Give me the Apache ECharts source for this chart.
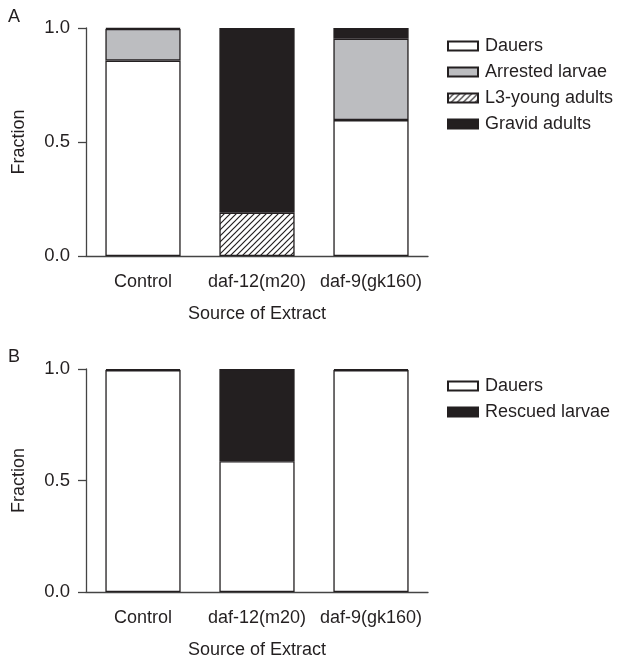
<!DOCTYPE html>
<html><head><meta charset="utf-8">
<script src="https://cdn.jsdelivr.net/npm/echarts@6/dist/echarts.min.js"></script>
<style>html,body{margin:0;padding:0;background:#fff}#c{width:618px;height:660px}</style>
</head><body><div id="c"></div>
<script>
const categories = ['Control', 'daf-12(m20)', 'daf-9(gk160)'];
const yTicks = [0.0, 0.5, 1.0];
// Panel A ('-' = no segment)
const aDauers   = [0.857, '-', 0.596];
const aArrested = [0.139, '-', 0.357];
const aL3       = ['-', 0.19, '-'];
const aGravid   = [0.004, 0.81, 0.047];
// Panel B
const bDauers  = [0.995, 0.586, 0.995];
const bRescued = [0.005, 0.414, 0.005];

const FONT = 'Liberation Sans, Arial, Helvetica, sans-serif';
const INK = '#231f20';

function hatch() {
  const s = 6;
  const cv = document.createElement('canvas');
  cv.width = s; cv.height = s;
  const g = cv.getContext('2d');
  g.fillStyle = '#fff'; g.fillRect(0, 0, s, s);
  g.strokeStyle = INK; g.lineWidth = 1.2;
  g.beginPath();
  g.moveTo(0, s); g.lineTo(s, 0);
  g.moveTo(-s/2, s/2); g.lineTo(s/2, -s/2);
  g.moveTo(s/2, s*1.5); g.lineTo(s*1.5, s/2);
  g.stroke();
  return {image: cv, repeat: 'repeat'};
}
const hatchFill = hatch();

function xAx(gi) {
  return {
    type: 'category', gridIndex: gi, data: categories,
    axisLine: {lineStyle: {color: '#444', width: 1.3}},
    axisTick: {alignWithLabel: true, length: 6, lineStyle: {color: '#444', width: 1.3}},
    axisLabel: {color: INK, fontSize: 18, fontFamily: FONT, margin: 17, interval: 0},
    name: 'Source of Extract', nameLocation: 'middle', nameGap: 49,
    nameTextStyle: {color: INK, fontSize: 18, fontFamily: FONT}
  };
}
function yAx(gi) {
  return {
    type: 'value', gridIndex: gi, min: 0, max: 1, interval: 0.5,
    splitLine: {show: false},
    axisLine: {show: true, lineStyle: {color: '#444', width: 1.3}},
    axisTick: {show: true, length: 8, lineStyle: {color: '#444', width: 1.3}},
    axisLabel: {color: INK, fontSize: 18.5, fontFamily: FONT, margin: 16,
      formatter: v => yTicks.indexOf(v) >= 0 ? v.toFixed(1) : ''},
    name: 'Fraction', nameLocation: 'middle', nameGap: 58,
    nameTextStyle: {color: INK, fontSize: 18, fontFamily: FONT}
  };
}
function bar(name, data, gi, stack, fill) {
  return {
    name, type: 'bar', stack, data, xAxisIndex: gi, yAxisIndex: gi,
    barWidth: '66%', animation: false,
    itemStyle: {color: fill, borderColor: INK, borderWidth: 1.3}
  };
}

const legendText = {color: INK, fontSize: 18, fontFamily: FONT, padding: [0, 0, 0, 2]};
const chart = echarts.init(document.getElementById('c'), null, {renderer: 'canvas'});
chart.setOption({
  animation: false,
  title: [
    {text: 'A', left: 8, top: 8, padding: 0, textStyle: {fontSize: 18, fontWeight: 'normal', color: INK, fontFamily: FONT}},
    {text: 'B', left: 8, top: 348, padding: 0, textStyle: {fontSize: 18, fontWeight: 'normal', color: INK, fontFamily: FONT}}
  ],
  grid: [
    {left: 86, width: 342, top: 28, height: 228},
    {left: 86, width: 342, top: 369, height: 229}
  ],
  xAxis: [xAx(0), xAx(1)],
  yAxis: [yAx(0), yAx(1)],
  legend: [
    {orient: 'vertical', left: 442, top: 32, itemWidth: 30, itemHeight: 9, itemGap: 8, icon: 'rect',
     data: ['Dauers', 'Arrested larvae', 'L3-young adults', 'Gravid adults'],
     textStyle: legendText, selectedMode: false},
    {orient: 'vertical', left: 442, top: 372, itemWidth: 30, itemHeight: 9, itemGap: 8, icon: 'rect',
     data: ['Dauers', 'Rescued larvae'],
     textStyle: legendText, selectedMode: false}
  ],
  series: [
    bar('Dauers', aDauers, 0, 'a', '#ffffff'),
    bar('Arrested larvae', aArrested, 0, 'a', '#bcbdc0'),
    bar('L3-young adults', aL3, 0, 'a', hatchFill),
    bar('Gravid adults', aGravid, 0, 'a', INK),
    bar('Dauers', bDauers, 1, 'b', '#ffffff'),
    bar('Rescued larvae', bRescued, 1, 'b', INK)
  ]
});
</script></body></html>
